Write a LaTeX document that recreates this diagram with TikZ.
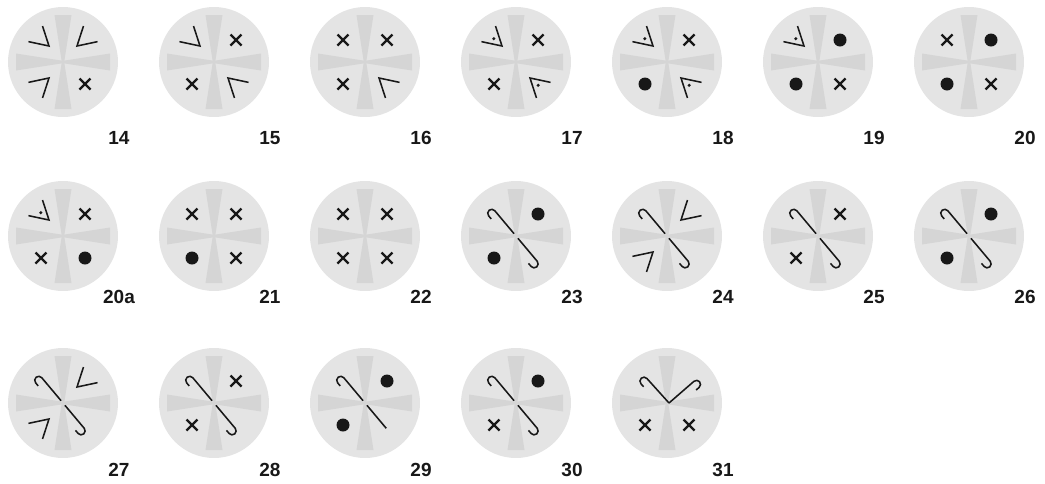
\documentclass[tikz,border=0pt]{standalone}
\usepackage{fontspec}
\setmainfont{Liberation Sans}
\definecolor{discgray}{RGB}{228,228,228}
\definecolor{armgray}{RGB}{213,213,213}
\definecolor{ink}{RGB}{24,24,24}
\tikzset{
  disc/.style={fill=discgray},
  arm/.style={fill=armgray},
  sym/.style={draw=ink,line width=1.55pt},
  cross/.style={draw=ink,line width=2.2pt},
  lab/.style={font=\fontsize{19}{21}\selectfont\bfseries,text=ink,inner sep=0pt},
}
% quadrant marks, #1/#2 = sign of x/y
\newcommand{\symn}[2]{}
\newcommand{\symx}[2]{%
  \draw[cross,shift={(#1*22,#2*22)}] (-5.5,-5.5) -- (5.5,5.5) (-5.5,5.5) -- (5.5,-5.5);}
\newcommand{\symd}[2]{\fill[ink] (#1*22,#2*22) circle[radius=6.5];}
\newcommand{\syma}[2]{%
  \draw[sym,xscale=#1,yscale=#2] (14,16) +(12:21) -- (14,16) -- +(72:21);}
\newcommand{\symp}[2]{%
  \syma{#1}{#2}
  \fill[ink,xscale=#1,yscale=#2] (14,16) ++(42:11) circle[radius=1.7];}
% crooks through the centre
\newcommand{\crook}[1]{\draw[sym] (0,#1) -- (0,33) arc[start angle=0,end angle=180,radius=4] -- ++(0,-4);}
\newcommand{\midn}{}
\newcommand{\mids}{%
  \begin{scope}[rotate=40]\crook{3}\end{scope}
  \begin{scope}[rotate=-140,xscale=-1]\crook{3}\end{scope}}
\newcommand{\midh}{%
  \begin{scope}[rotate=40]\crook{3}\end{scope}
  \draw[sym,rotate=-140] (0,3) -- (0,33);}
\newcommand{\midv}{%
  \begin{scope}[shift={(2,0)},rotate=42]\crook{0}\end{scope}
  \begin{scope}[shift={(2,0)},rotate=-49,xscale=-1]\crook{0}\end{scope}}
\begin{document}
\begin{tikzpicture}[x=1pt,y=1pt]
  \useasboundingbox (0,0) rectangle (1045,-483);
  \foreach \cx/\cy/\ly/\lab/\tl/\tr/\bl/\br/\md in {
      63/62/138/14/a/a/a/x/n, 214/62/138/15/a/x/x/a/n, 365/62/138/16/x/x/x/a/n,
      516/62/138/17/p/x/x/p/n, 667/62/138/18/p/x/d/p/n, 818/62/138/19/p/d/d/x/n,
      969/62/138/20/x/d/d/x/n,
      63/236/297/20a/p/x/x/d/n, 214/236/297/21/x/x/d/x/n, 365/236/297/22/x/x/x/x/n,
      516/236/297/23/n/d/d/n/s, 667/236/297/24/n/a/a/n/s, 818/236/297/25/n/x/x/n/s,
      969/236/297/26/n/d/d/n/s,
      63/403/470/27/n/a/a/n/s, 214/403/470/28/n/x/x/n/s, 365/403/470/29/n/d/d/n/h,
      516/403/470/30/n/d/x/n/s, 667/403/470/31/n/n/x/x/v}{%
    \begin{scope}[shift={(\cx,-\cy)}]
      % disc with cross
      \fill[disc] (0,0) circle[radius=55];
      \foreach \r in {0,90,180,270}
        \fill[arm,rotate=\r] (-1.2,0) -- (1.2,0) -- (8.5,47) -- (-8.5,47) -- cycle;
      % marks
      \csname sym\tl\endcsname{-1}{1}
      \csname sym\tr\endcsname{1}{1}
      \csname sym\bl\endcsname{-1}{-1}
      \csname sym\br\endcsname{1}{-1}
      \csname mid\md\endcsname
    \end{scope}
    \node[lab] (l\lab) at (\cx+56,-\ly) {\lab};
  }
\end{tikzpicture}
\end{document}
